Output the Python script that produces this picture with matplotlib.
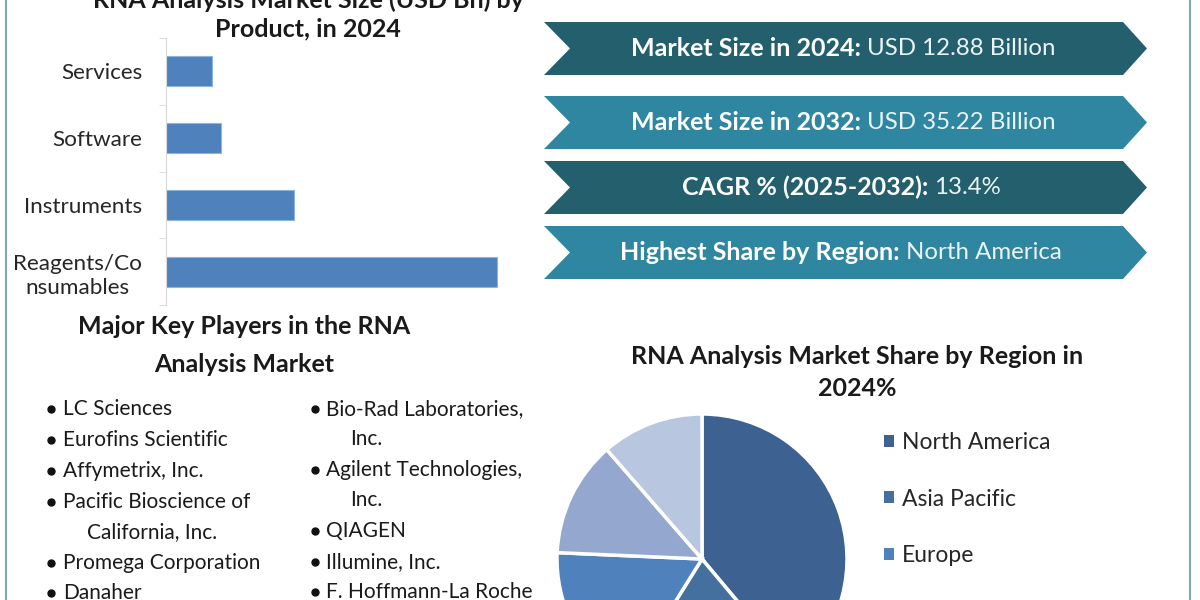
import matplotlib
matplotlib.use("Agg")
import matplotlib.pyplot as plt
from matplotlib.patches import Polygon

plt.rcParams['font.family'] = ['Lato', 'DejaVu Sans']

W, H = 1200, 600

products = ["Services", "Software", "Instruments", "Reagents/Co\nnsumables"]
product_values = [1.06, 1.27, 2.94, 7.61]

regions = ["North America", "Asia Pacific", "Europe", "Middle East and Africa", "South America"]
region_shares = [38.9, 20.0, 16.8, 12.9, 11.4]
region_colors = ["#3D6190", "#44709F", "#4F81BD", "#93A7CF", "#B9C6DF"]

banner_bold = ["Market Size in 2024:", "Market Size in 2032:", "CAGR % (2025-2032):", "Highest Share by Region:"]
banner_plain = ["USD 12.88 Billion", "USD 35.22 Billion", "13.4%", "North America"]
banner_colors = ["#245F6E", "#2F86A0", "#245F6E", "#2F86A0"]
banner_tops = [22, 96, 161, 226]
banner_splits = [863, 863, 930, 902]

players_left = ["LC Sciences", "Eurofins Scientific", "Affymetrix, Inc.", "Pacific Bioscience of",
                "California, Inc.", "Promega Corporation", "Danaher"]
players_right = ["Bio-Rad Laboratories,", "Inc.", "Agilent Technologies,", "Inc.",
                 "QIAGEN", "Illumine, Inc.", "F. Hoffmann-La Roche"]
left_rows = [409, 440, 471, 502, 532, 563, 593]
right_rows = [409, 439, 470, 500, 531, 562, 592]


def px_axes(fig, left, top, right, bottom):
    return fig.add_axes([left / W, 1 - bottom / H, (right - left) / W, (bottom - top) / H])


fig = plt.figure(figsize=(12, 6), dpi=100, facecolor="white")

# page layer in pixel coordinates
page = fig.add_axes([0, 0, 1, 1])
page.set_xlim(0, W)
page.set_ylim(H, 0)
page.axis("off")

page.plot([6, 6], [0, H], color="#7FA9AE", lw=1.5)
page.plot([1190, 1190], [0, H], color="#7FA9AE", lw=1.5)

# bar chart
bar_ax = px_axes(fig, 166, 38, 514, 305)
y_pos = list(range(len(products)))
bar_ax.barh(y_pos, product_values, height=0.45, color="#4F81BD", edgecolor="#8FB4DC", linewidth=0.8)
bar_ax.set_xlim(0, 8)
bar_ax.set_ylim(3.5, -0.5)
bar_ax.set_yticks(y_pos)
bar_ax.set_yticklabels(products, fontsize=16.2, color="#262626", multialignment="center", linespacing=1.25)
bar_ax.set_yticks([-0.5, 0.5, 1.5, 2.5, 3.5], minor=True)
bar_ax.tick_params(axis="y", which="major", length=0, pad=17)
bar_ax.tick_params(axis="y", which="minor", length=5, color="#D9D9D9")
bar_ax.set_xticks([])
for side in ["top", "right", "bottom"]:
    bar_ax.spines[side].set_visible(False)
bar_ax.spines["left"].set_color("#D9D9D9")
bar_ax.patch.set_alpha(0)

# banners
for top, bold, plain, color, split in zip(banner_tops, banner_bold, banner_plain, banner_colors, banner_splits):
    bot = top + 53
    mid = top + 26.5
    page.add_patch(Polygon([(544, top), (1123, top), (1147, mid), (1123, bot), (544, bot), (570, mid)],
                           closed=True, facecolor=color, edgecolor="none"))
    page.text(split - 2, mid, bold, color="white", fontsize=18, fontweight="bold", ha="right", va="center")
    page.text(split + 4, mid, plain, color="#EAF4F6", fontsize=17.3, ha="left", va="center")

# titles
title_kw = dict(fontsize=18, fontweight="bold", color="#1A1A1A", ha="center", va="center")
page.text(308, 0, "RNA Analysis Market Size (USD Bn) by", **title_kw)
page.text(308, 29, "Product, in 2024", **title_kw)
page.text(244, 326, "Major Key Players in the RNA", **title_kw)
page.text(244, 365, "Analysis Market", **title_kw)
page.text(857, 356, "RNA Analysis Market Share by Region in", **title_kw)
page.text(857, 389, "2024%", **title_kw)

# key players
list_kw = dict(fontsize=15, color="#1A1A1A", ha="left", va="center")
for name, row in zip(players_left, left_rows):
    if name.startswith("California"):
        page.text(87, row, name, **list_kw)
    else:
        page.plot([51], [row], "o", color="#111111", ms=5)
        page.text(63, row, name, **list_kw)
for name, row in zip(players_right, right_rows):
    if name == "Inc.":
        page.text(350, row, name, **list_kw)
    else:
        page.plot([315], [row], "o", color="#111111", ms=5)
        page.text(326, row, name, **list_kw)

# pie, runs off the bottom of the page
pie_ax = px_axes(fig, 557, 414, 847, 704)
wedges, _ = pie_ax.pie(region_shares, colors=region_colors, startangle=90, counterclock=False,
                       radius=1, wedgeprops=dict(edgecolor="white", linewidth=2.5))
pie_ax.set_xlim(-1, 1)
pie_ax.set_ylim(-1, 1)

legend = fig.legend(wedges, regions, loc="upper left", bbox_to_anchor=(884 / W, 1 - 432 / H), frameon=False,
                    fontsize=16.5, labelspacing=1.55, handlelength=0.44, handleheight=0.44, handletextpad=0.35,
                    borderpad=0, borderaxespad=0, labelcolor="#262626")
for handle in legend.legend_handles:
    handle.set_edgecolor("none")

fig.savefig("out.png", dpi=100)
